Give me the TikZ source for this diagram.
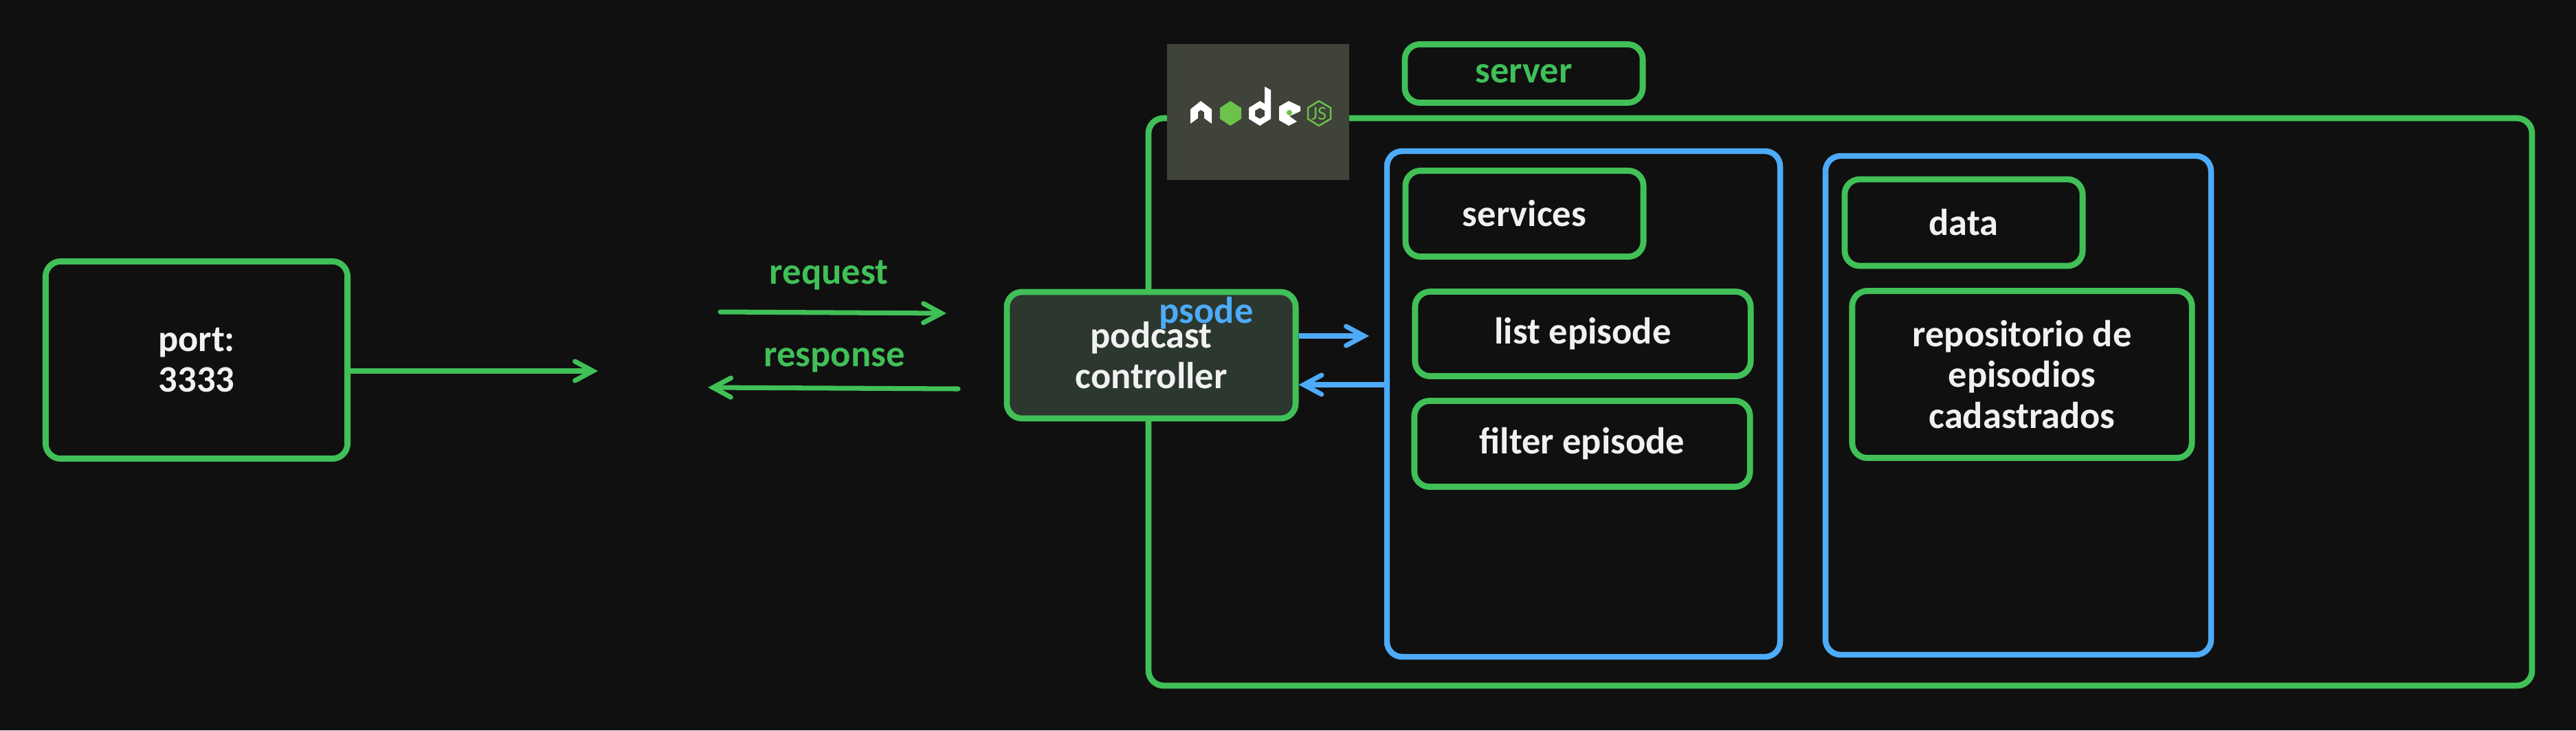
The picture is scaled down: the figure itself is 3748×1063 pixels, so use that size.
\documentclass[tikz,border=0pt]{standalone}
\usepackage{fontspec}
\setmainfont{Carlito}
\usetikzlibrary{arrows.meta,positioning,calc}

\definecolor{bgdark}{HTML}{101010}
\definecolor{boxgreen}{HTML}{40C057}
\definecolor{boxblue}{HTML}{4DABF7}
\definecolor{textwhite}{HTML}{F1F1F1}
\definecolor{ctrlfill}{HTML}{2B372F}
\definecolor{logofill}{HTML}{3F4339}
\definecolor{logogreen}{HTML}{6CC24A}

\begin{document}
\begin{tikzpicture}[x=0.01cm,y=-0.01cm,
    greenbox/.style={draw=boxgreen,line width=2.5pt,rounded corners=2.2mm,fill=bgdark,text=textwhite,
      align=center,font=\fontsize{15.5}{16.8}\selectfont\bfseries,inner sep=0pt},
    bluebox/.style={draw=boxblue,line width=2.4pt,rounded corners=2.2mm},
    greenarrow/.style={draw=boxgreen,line width=2pt,line cap=round,-{Straight Barb[length=2.6mm,width=2.8mm,line cap=round]}},
    bluearrow/.style={draw=boxblue,line width=2pt,-{Straight Barb[length=2.6mm,width=2.8mm,line cap=round]}},
    greenlabel/.style={text=boxgreen,font=\fontsize{15.5}{16.8}\selectfont\bfseries,inner sep=0pt}]

  % Hintergrund
  \fill[bgdark] (0,0) rectangle (3748,1063);

  % Server
  \draw[draw=boxgreen,line width=2.5pt,rounded corners=2.2mm] (1671,172) rectangle (3684,998);

  % Node Logo
  \fill[logofill] (1698,64) rectangle (1963,262);
  \fill[white] (1732,159) -- (1747,147) -- (1763,159) -- (1763,180) -- (1752,172) -- (1752,163)
    -- (1747,160) -- (1743,163) -- (1743,172) -- (1732,180) -- cycle;
  \fill[logogreen] (1790,147) -- (1806,157) -- (1806,173) -- (1790,183) -- (1775,173) -- (1775,157) -- cycle;
  \fill[white,even odd rule] (1840,126) -- (1849,131) -- (1849,173) -- (1833,183) -- (1817,173) -- (1817,157)
    -- (1833,147) -- (1840,151) -- cycle
    (1833,157) -- (1840,161) -- (1840,169) -- (1833,173) -- (1826,169) -- (1826,161) -- cycle;
  \fill[white] (1875,147) -- (1892,155) -- (1892,162) -- (1876,169) -- (1887,177) -- (1875,183)
    -- (1861,175) -- (1861,155) -- cycle;
  \fill[logogreen] (1876,164) circle (4);
  \draw[logogreen,line width=0.7pt] (1919,147) -- (1936,157) -- (1936,173) -- (1919,183) -- (1903,173) -- (1903,157) -- cycle;
  \node[text=logogreen,font=\fontsize{8}{8}\selectfont,inner sep=0pt] (logojs) at (1919,165) {JS};

  \node[greenbox,minimum width=3.46cm,minimum height=0.85cm,text=boxgreen] (server) at (2217,107) {server};

  % Linke Seite
  \node[greenbox,minimum width=4.39cm,minimum height=2.87cm] (port) at (286,524) {port:\\3333};
  \coordinate (portend) at (870,540);
  \draw[greenarrow] (port.east |- portend) -- (portend);

  % Request und Response
  \node[greenlabel] (request) at (1206,401) {request};
  \coordinate (reqstart) at (1048,454);
  \coordinate (reqend) at (1377,456);
  \draw[greenarrow] (reqstart) -- (reqend);
  \node[greenlabel] (response) at (1214,524) {response};
  \coordinate (resstart) at (1394,566);
  \coordinate (resend) at (1030,564);
  \draw[greenarrow] (resstart) -- (resend);

  % Services
  \draw[bluebox] (2018,220) rectangle (2590,956);
  \node[greenbox,minimum width=3.46cm,minimum height=1.25cm] (services) at (2218,311) {services};
  \node[greenbox,minimum width=4.88cm,minimum height=1.23cm] (list) at (2303,486) {\raisebox{-0.6mm}{list episode}};
  \node[greenbox,minimum width=4.88cm,minimum height=1.25cm] (filter) at (2302,646) {\raisebox{-0.6mm}{filter episode}};

  % Data
  \draw[bluebox] (2656,227) rectangle (3217,953);
  \node[greenbox,minimum width=3.46cm,minimum height=1.26cm] (data) at (2857,324) {data};
  \node[greenbox,minimum width=4.94cm,minimum height=2.43cm] (repo) at (2942,545) {repositorio de\\episodios\\cadastrados};

  % Controller
  \node[greenbox,minimum width=4.2cm,minimum height=1.84cm,fill=ctrlfill] (controller) at (1675,517) {podcast\\controller};
  \node[greenlabel,text=boxblue] (psode) at (1755,456) {psode};

  % Pfeile zu den Services
  \coordinate (svcin) at (1992,489);
  \draw[bluearrow] (controller.east |- svcin) -- (svcin);
  \coordinate (svcout) at (1014,560);
  \draw[bluearrow] (2018,560) -- (controller.east |- svcout);
\end{tikzpicture}
\end{document}
